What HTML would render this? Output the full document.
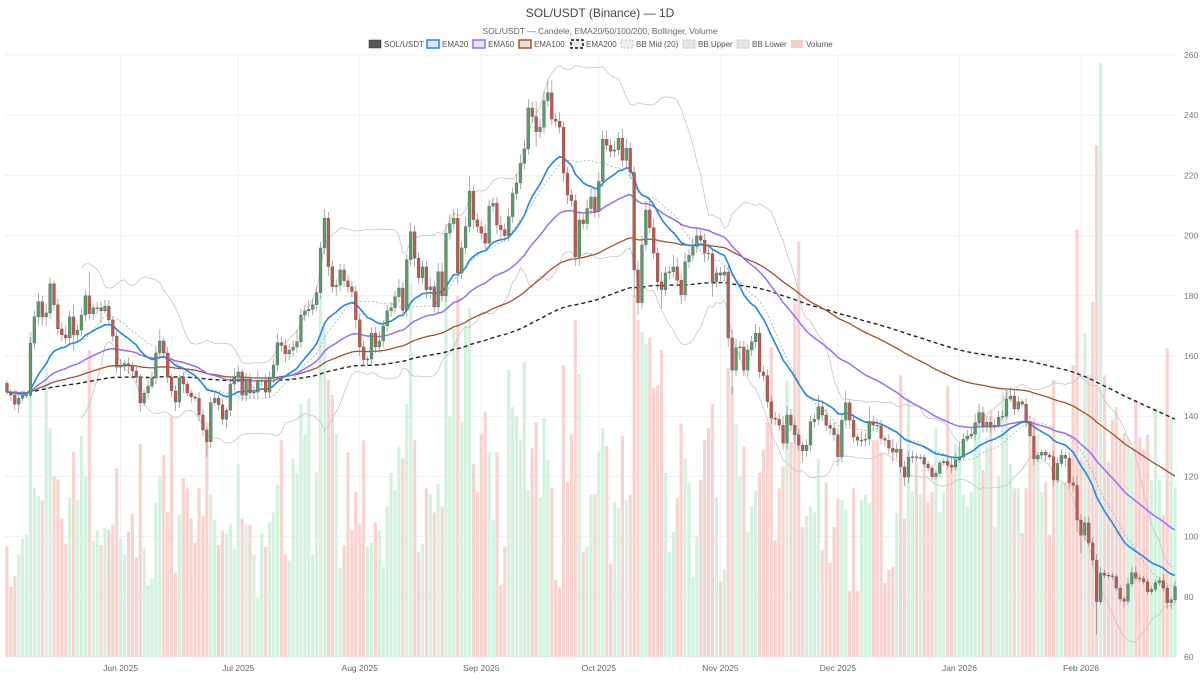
<!DOCTYPE html>
<html><head><meta charset="utf-8">
<style>
html,body{margin:0;padding:0;background:#fff;}
body{width:1200px;height:675px;overflow:hidden;font-family:"Liberation Sans",sans-serif;}
svg text{font-family:"Liberation Sans",sans-serif;}
</style></head>
<body>
<svg id="chart" width="1200" height="675" viewBox="0 0 1200 675" xmlns="http://www.w3.org/2000/svg">
<text x="600" y="17" text-anchor="middle" font-size="12" fill="#444">SOL/USDT (Binance) — 1D</text>
<text x="600" y="34" text-anchor="middle" font-size="8.5" fill="#666">SOL/USDT — Candele, EMA20/50/100/200, Bollinger, Volume</text>
<g id="legend" font-size="8" fill="#555">
 <g><rect x="369" y="40" width="12" height="8" fill="#555" stroke="#333" stroke-width="0.5"/><text x="384" y="47">SOL/USDT</text></g>
 <g><rect x="427" y="40" width="12" height="8" fill="#dbe9f8" stroke="#1e88e5" stroke-width="1.5"/><text x="442" y="47">EMA20</text></g>
 <g><rect x="473" y="40" width="12" height="8" fill="#ece3fb" stroke="#9b6cf0" stroke-width="1.5"/><text x="488" y="47">EMA50</text></g>
 <g><rect x="519" y="40" width="12" height="8" fill="#eedfd4" stroke="#a0522d" stroke-width="1.5"/><text x="534" y="47">EMA100</text></g>
 <g><rect x="571" y="40" width="12" height="8" fill="#eee" stroke="#111" stroke-width="1.5" stroke-dasharray="3,2"/><text x="586" y="47">EMA200</text></g>
 <g><rect x="621" y="40" width="12" height="8" fill="#eee" stroke="#aaa" stroke-width="0.8" stroke-dasharray="2,2"/><text x="636" y="47">BB Mid (20)</text></g>
 <g><rect x="683" y="40" width="12" height="8" fill="#e6e6e6" stroke="#ccc" stroke-width="0.8"/><text x="698" y="47">BB Upper</text></g>
 <g><rect x="737" y="40" width="12" height="8" fill="#e6e6e6" stroke="#ccc" stroke-width="0.8"/><text x="752" y="47">BB Lower</text></g>
 <g><rect x="791" y="40" width="12" height="8" fill="#f6cfcb"/><text x="806" y="47">Volume</text></g>
</g>
<g id="grid"></g>
<g id="vol"></g>
<g id="ind"></g>
<g id="candles"></g>
<g id="axes"></g>
</svg>
<script>
const closes = [
148,147,144,146,147,147,164.3,173,178,173,
174.3,184,177,169,167,166,173,167,168.6,173.6,
180,174,176,176,175,176.6,172,166.6,156.3,157,
157.5,157,155,153,144.4,147.7,150,152.7,161,165,
161,153,148.4,144.7,152.7,150.7,147.7,146.4,146,140.4,
135.4,131.5,144.5,146,143.8,139,142,150.7,153,154.7,
147,152.4,147.7,148,152,152,148,153,157,164.4,
163.5,160.7,162,163,164.7,173.6,175,175.5,177,181,
195.9,205.8,189.7,183,183.5,188.6,185,183,181.4,172,
163,158.7,159,167.6,163,165,170,175,176,179.7,
182.6,175.2,192,201.3,192.5,186,189.6,182,183,176.3,
188,180,200.8,204,205.8,187.6,195.9,203,214.8,205.3,
203,200.8,197.5,209.8,210.8,203.5,202,200,206.3,214,
217.5,224,228.8,242.4,239.5,234.5,236,244.8,247.5,238.7,
238,236,220.8,213.5,211.6,193,205.2,204,209,212.8,
208,218,232,230,228,228.5,232.4,225,229,221,
188.6,177.7,196.9,208.5,202.6,194.2,184.7,182,187.6,188,
189.6,185.2,180.3,191.3,193.5,196.3,199.9,198.5,194.2,194,
184.7,187.6,186.9,187.9,166,155.3,162.7,163,155.3,162,
164.7,167.6,154.7,153.5,144.8,139.4,139,137,131,140.4,
137,133.8,130.4,128.5,130.4,138.2,139,143.1,140.4,137,
136,133.8,126.5,138.7,144.5,138.7,133.1,132,132,132.4,
138.2,137,136.8,132.6,132,129.4,128,129,123.2,119.8,
126.4,126.5,126.3,126.3,124.1,122.8,119.9,121,124.5,125,
123.7,123.1,125.5,126.4,132.4,133.4,134,137.8,141.2,136.5,
138,136.4,137,139.7,140,145.7,146.7,142.4,144.8,144,
138.2,133.4,125.8,127,128,127.1,126.5,118.8,124.3,127,
126,117.9,117,105.5,100.5,104.6,97.9,92.2,78.4,87.9,
87.2,87,86.7,82.9,79.3,78.5,84.3,88,86.2,86,
85,81.7,82.5,84.7,85.4,82.9,78,79,83.3];
const firstOpen = 151;
const upperWick = [
1,1,2,1,1,1,2,2,3,2, 3,2,1,2,2,3,2,4,2,2, 2,8,1,2,2,2,2,1,2,2, 1,2,1,2,1,1,2,2,2,4,
1,2,1,2,1,2,1,1,1,2, 2,1,2,2,1,2,1,2,3,2, 1,2,2,2,3,1,2,2,2,3, 2,2,2,2,4,2,2,3,2,2,
2,3,2,2,2,2,2,2,2,2, 2,2,1,2,2,3,2,2,2,2, 3,2,2,3,2,2,2,2,3,2, 3,3,3,3,3,3,2,3,5,2,
2,2,3,2,2,2,3,2,3,2, 3,3,3,3,2,5,3,3,4,4, 2,3,2,2,2,2,3,2,3,3, 3,3,3,3,2,3,2,3,3,2,
2,3,3,3,3,3,2,3,2,2, 4,3,2,3,2,3,3,2,2,3, 2,2,2,2,2,3,3,2,2,2, 2,3,2,2,2,2,2,2,3,3,
2,2,2,1,2,2,2,4,2,2, 2,2,2,2,4,1,2,1,3,2, 5,2,2,2,1,2,3,2,4,2, 2,2,1,1,1,1,1,1,1,1,
2,3,2,5,2,2,2,3,3,2, 2,2,2,2,2,3,3,2,2,1, 2,2,3,1,1,1,1,2,2,2, 1,2,2,3,2,2,2,2,2,2,
1,1,1,1,1,1,2,2,2,1, 1,1,1,1,1,2,1,1,2];
const lowerWick = [
1,2,2,3,1,1,1,2,3,3, 3,2,2,2,2,2,2,5,2,2, 2,2,2,2,4,1,2,2,2,3, 2,3,2,2,3,1,2,1,2,2,
1,2,2,3,2,3,1,2,1,2, 2,5,2,1,2,2,3,2,2,2, 2,2,2,2,2,2,2,2,2,2, 2,3,2,2,2,2,2,2,2,2,
2,2,3,2,3,2,2,2,2,3, 3,2,2,2,2,2,2,2,2,2, 2,2,2,2,3,2,2,3,3,2, 2,2,2,2,2,4,2,2,2,3,
2,2,2,2,2,3,3,2,2,2, 2,2,2,2,2,5,2,2,2,2, 2,2,3,3,2,3,3,2,2,2, 2,2,2,2,2,2,2,2,3,2,
9,4,2,2,2,2,3,6,2,2, 2,2,3,2,2,2,2,2,3,2, 5,2,2,2,3,8,2,4,2,2, 2,2,2,2,2,2,2,2,2,2,
2,3,2,4,2,2,2,2,2,2, 2,2,3,2,2,2,2,2,2,2, 2,2,2,2,2,2,3,2,2,3, 2,2,1,1,1,1,1,1,1,1,
1,2,1,1,1,1,1,2,1,2, 2,2,1,1,1,1,1,2,1,1, 2,2,2,1,1,2,1,2,1,1, 3,2,2,4,6,2,1,2,11,1,
1,1,1,1,1,2,1,1,1,1, 1,1,1,1,1,1,2,2,1];
const volumes = [
18.4,11.6,13.4,17,19.6,20.3,54,28,26.7,26, 48,38,30,29.5,23,18.8,26.6,34,26,36.7,
30,51,19.3,21,18.6,21.4,21.2,22,31.4,19.6, 17,20.8,23.8,16.6,35.4,18,12,13,25.6,30,
33.6,24,40,14,23.6,29.7,28,23,19,28, 23.4,39,27,22.8,18.6,21,20.4,22,18,32,
23,22,22,17,9.8,20.6,18.3,22.4,24,28.6, 36,17,16,33,30.6,42,37,43,17,30.7,
60,55,46,43.5,37,14.8,18.6,34,21,27.4, 22,36,18.3,19,22.3,21,15,25,30.6,27.7,
35,33,42,62,36,17.4,18.8,28,27,24, 28.7,25,60,40,55,60,39,55,58,32,
27.4,37,40.7,34,22.8,34,12,18.3,47.7,41.5, 40,36,49,27.7,34.7,39,26.6,39.7,32.7,28,
12.8,11.6,48.5,29,37,56,47,17.4,18.3,27, 27,34,38,35,15.5,25.7,24.7,36.7,26,27,
60,56,54,52,53,44.7,45,51,30.6,17.4, 20.8,26.4,38.8,33,29,13.3,20,29.4,36,38,
42,26.6,12.5,14.5,48,45,38.7,30,35,20.8, 25,27.7,30.6,34.4,39,51.5,19.4,28,31.6,46,
35.7,58.8,69,21.6,23.4,25,24,33,17.8,29, 15.6,21.6,26.2,26,24.6,11,28,11,26,27,
25.6,36,36,34,12.3,14.5,15,24,46.8,23, 43,27.4,33,27,32,25.7,27.4,38,24,27.4,
45,32,35.5,35,27,25,27.4,38,41,31, 36.5,41,21.6,30,44,44.3,32,28,28,20.6,
28,35.7,39.7,37,27.4,29,20.3,46,31.4,29, 29,29,48.5,71,33,53.8,46.8,59,85,98.7,
46.8,32.4,39.4,41.5,36.4,37.2,36.4,33.9,42.7,36.5, 34.4,36.9,29.4,41.4,29.4,23.6,51.3,39.9,28.2];
const yTicks = [60,80,100,120,140,160,180,200,220,240,260];
const monthLabels = ["Jun 2025","Jul 2025","Aug 2025","Sep 2025","Oct 2025","Nov 2025","Dec 2025","Jan 2026","Feb 2026"];
const monthIndex = [29,59,90,121,151,182,212,243,274];

const NS="http://www.w3.org/2000/svg";
const L=5,R=1177,T=55,B=657, YMIN=60,YMAX=260, VMAX=100;
const N=closes.length, step=(R-L)/N;
const xs=i=>L+(i+0.5)*step;
const ys=p=>B-(p-YMIN)/(YMAX-YMIN)*(B-T);
const vh=v=>v/VMAX*(B-T);
function mk(tag,attrs,parent){const e=document.createElementNS(NS,tag);for(const k in attrs)e.setAttribute(k,attrs[k]);parent.appendChild(e);return e;}
const grid=document.getElementById('grid'),axes=document.getElementById('axes');
yTicks.forEach(t=>{
  const l=mk('line',{x1:L,x2:R,y1:ys(t),y2:ys(t),stroke:'#efefef','stroke-width':1},grid);
  
  
  const tx=mk('text',{x:1184,y:ys(t)+3,'font-size':8.5,fill:'#777'},axes);
  tx.textContent=t;
  
  
});
monthIndex.forEach((mi,k)=>{
  const x=xs(mi);
  const l=mk('line',{x1:x,x2:x,y1:T,y2:B,stroke:'#efefef','stroke-width':1},grid);
  
  
  const tx=mk('text',{x:x,y:671,'text-anchor':'middle','font-size':8.5,fill:'#666'},axes);
  tx.textContent=monthLabels[k];
  
  
});
const opens=closes.map((c,i)=>i===0?firstOpen:closes[i-1]);
// volume
const vg=document.getElementById('vol');
volumes.forEach((v,i)=>{
  const up=closes[i]>=opens[i];
  const r=mk('rect',{x:xs(i)-1.6,y:B-vh(v),width:3.2,height:vh(v),fill:up?'#d3f1df':'#f8d3cf'},vg);
  
  
});
// indicators
function ema(n){const a=2/(n+1);let e=closes[0];return closes.map((c,i)=>{if(i>0)e=a*c+(1-a)*e;return e;});}
function path(vals,start){let d='';vals.forEach((v,i)=>{if(i<start||v==null)return;d+=(d?'L':'M')+xs(i).toFixed(1)+','+ys(v).toFixed(1);});return d;}
const mid=[],up=[],lo=[];
closes.forEach((c,i)=>{if(i<19){mid.push(null);up.push(null);lo.push(null);return;}
  const s=closes.slice(i-19,i+1);const m=s.reduce((a,b)=>a+b,0)/20;const sd=Math.sqrt(s.reduce((a,b)=>a+(b-m)*(b-m),0)/20);
  mid.push(m);up.push(m+2*sd);lo.push(m-2*sd);});
const ind=document.getElementById('ind');
const lines=[
 ['bb-upper-line',up,19,'#c4c4c4',0.8,''],
 ['bb-lower-line',lo,19,'#c4c4c4',0.8,''],
 ['bb-mid-line',mid,19,'#aaa',0.8,'2,2'],
 ['ema200-line',ema(200),0,'#222',1.4,'4,3'],
 ['ema100-line',ema(100),0,'#a0522d',1.3,''],
 ['ema50-line',ema(50),0,'#9b6cf0',1.5,''],
 ['ema20-line',ema(20),0,'#1e88e5',1.6,'']];
lines.forEach(([nm,v,s,col,w,da])=>{
  const p=mk('path',{d:path(v,s),fill:'none',stroke:col,'stroke-width':w},ind);
  if(da)p.setAttribute('stroke-dasharray',da);
  
  
});
// candles
const cg=document.getElementById('candles');
closes.forEach((c,i)=>{
  const o=opens[i],isUp=c>=o,hi=Math.max(o,c)+upperWick[i],lw=Math.min(o,c)-lowerWick[i];
  const col=isUp?'#579a6c':'#c0574b';
  const g=mk('g',{},cg);
  
  
  mk('line',{x1:xs(i),x2:xs(i),y1:ys(hi),y2:ys(lw),stroke:'#888','stroke-width':0.7},g);
  const top=ys(Math.max(o,c)),bot=ys(Math.min(o,c));
  mk('rect',{x:xs(i)-1.45,y:top,width:2.9,height:Math.max(0.8,bot-top),fill:col,stroke:'#555','stroke-width':0.3},g);
});
</script>
</body></html>
